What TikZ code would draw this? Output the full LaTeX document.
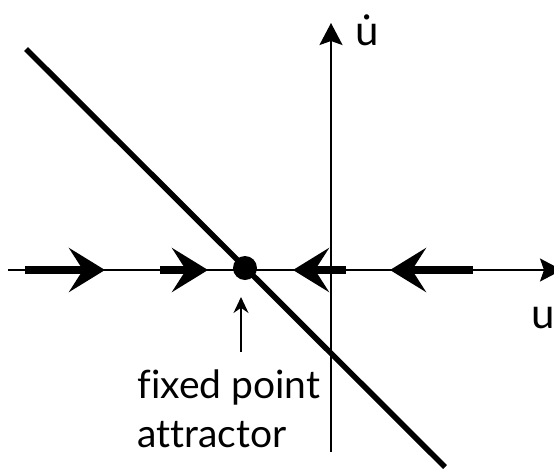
\documentclass[tikz,border=0pt]{standalone}
\usepackage{fontspec}
\setmainfont{Lato}[Ligatures=NoCommon]
\usetikzlibrary{arrows.meta}

\begin{document}
\begin{tikzpicture}[x=0.5pt,y=-0.5pt,>=Stealth,
  flow/.style={line width=4pt,-{Stealth[length=18pt,width=22pt,inset=7pt]}},
  axis/.style={line width=1pt,-{Stealth[length=11pt,width=11.5pt,inset=2pt]}},
  axlab/.style={anchor=base,inner sep=0pt,font=\fontsize{21}{24}\selectfont}]
  \useasboundingbox (0,0) rectangle (554,468);
  % axes
  \coordinate (xl) at (8,270);
  \coordinate (xr) at (562,270);
  \coordinate (yb) at (331,452);
  \coordinate (yt) at (331,23);
  \draw[axis] (xl) -- (xr);
  \draw[axis] (yb) -- (yt);
  \node[axlab] (ulab) at (543,328) {u};
  \node[axlab] (udot) at (367,45) {\.{u}};
  % nullcline
  \coordinate (nA) at (26,49);
  \coordinate (nB) at (445,467);
  \draw[line width=2.8pt] (nA) -- (nB);
  % flow along the u axis
  \foreach \a/\b in {25/105,160/208,346/293,473/390}
    \draw[flow] (\a,270) -- (\b,270);
  \node[circle,fill,inner sep=0pt,minimum size=12pt] (fp) at (245,268) {};
  % label
  \node[anchor=base west,align=left,inner sep=0pt,
    font=\fontsize{19.5}{24.5}\selectfont] (lbl) at (137,447)
    {fixed point\\attractor};
  \coordinate (pA) at (241,352);
  \coordinate (pB) at (241,297);
  \draw[line width=1pt,-{Stealth[length=8pt,width=7.5pt]}] (pA) -- (pB);
\end{tikzpicture}
\end{document}
